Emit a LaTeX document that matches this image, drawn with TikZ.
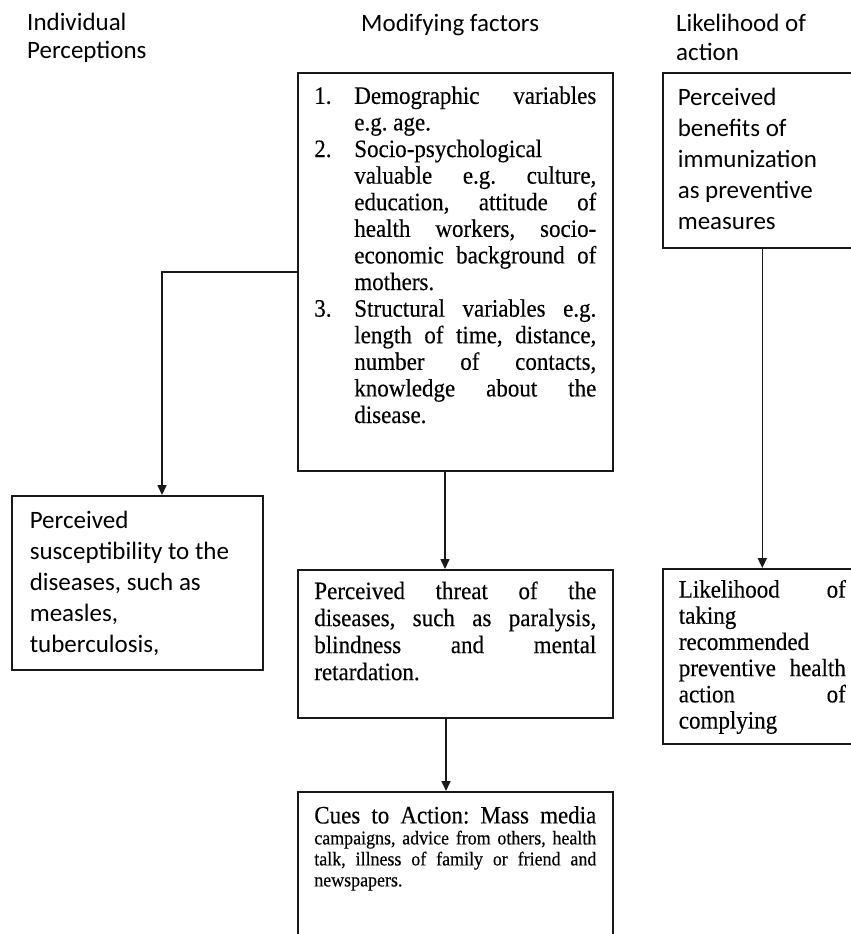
\documentclass[tikz,border=0pt]{standalone}
\usepackage{fontspec}
\setmainfont[FakeStretch=0.92,FakeBold=0.3]{Liberation Serif}
\newfontfamily\calib{Carlito}
\usetikzlibrary{arrows.meta}
\frenchspacing
\newcommand\nitem[2]{\noindent\makebox[40pt][l]{\strut #1}\makebox[242pt][s]{#2}\par}
\newcommand\nitemL[2]{\noindent\makebox[40pt][l]{\strut #1}#2\par}
\newcommand\cj[1]{\noindent\hspace*{40pt}\makebox[242pt][s]{\strut #1}\par}
\newcommand\cl[1]{\noindent\hspace*{40pt}\strut #1\par}
\newcommand\jline[2]{\noindent\makebox[#1][s]{\strut #2}\par}
\newcommand\lline[1]{\noindent\strut #1\par}
\tikzset{
  pbox/.style={draw=black!90, line width=1.6pt, inner ysep=0pt, anchor=north west},
  arr/.style={draw=black!90, line width=1.6pt, -{Triangle[length=10pt,width=9pt]}},
  head/.style={anchor=base west, inner sep=0pt}
}
\begin{document}
\begin{tikzpicture}[x=1pt,y=-1pt]
\useasboundingbox (0,0) rectangle (851,934);
\clip (0,0) rectangle (851,934);
% headings
\node[head, font=\calib\fontsize{25}{28}\selectfont] (h1) at (27,31)
  {\parbox[t]{200pt}{\raggedright Individual\\Perceptions}};
\node[head, font=\calib\fontsize{25}{28}\selectfont] (h2) at (361,32) {Modifying factors};
\node[head, font=\calib\fontsize{25}{29}\selectfont] (h3) at (676,32)
  {\parbox[t]{170pt}{\raggedright Likelihood of\\action}};
% modifying factors box
\node[pbox, inner xsep=16.5pt] (mods) at (297,72)
  {\parbox[c][398pt][t]{282pt}{\fontsize{25}{26.6}\selectfont\lineskiplimit=-100pt
   \vspace*{12.4pt}
   \nitem{1.}{Demographic variables}
   \cl{e.g. age.}
   \nitemL{2.}{Socio-psychological}
   \cj{valuable e.g. culture,}
   \cj{education, attitude of}
   \cj{health workers, socio-}
   \cj{economic background of}
   \cl{mothers.}
   \nitem{3.}{Structural variables e.g.}
   \cj{length of time, distance,}
   \cj{number of contacts,}
   \cj{knowledge about the}
   \cl{disease.}}};
% benefits box
\node[pbox, inner xsep=15pt] (benefits) at (662,72)
  {\parbox[c][175pt][t]{169pt}{\calib\fontsize{25}{31}\selectfont\lineskiplimit=-100pt
   \vspace*{11.3pt}
   \lline{Perceived}
   \lline{benefits of}
   \lline{immunization}
   \lline{as preventive}
   \lline{measures}}};
% susceptibility box
\node[pbox, inner xsep=18pt] (susc) at (11,495)
  {\parbox[c][174pt][t]{215pt}{\calib\fontsize{25}{31}\selectfont\lineskiplimit=-100pt
   \vspace*{11.3pt}
   \lline{Perceived}
   \lline{susceptibility to the}
   \lline{diseases, such as}
   \lline{measles,}
   \lline{tuberculosis,}}};
% threat box
\node[pbox, inner xsep=16.5pt] (threat) at (297,569)
  {\parbox[c][148pt][t]{282pt}{\fontsize{25}{27}\selectfont\lineskiplimit=-100pt
   \vspace*{10.4pt}
   \jline{282pt}{Perceived threat of the}
   \jline{282pt}{diseases, such as paralysis,}
   \jline{282pt}{blindness and mental}
   \lline{retardation.}}};
% likelihood box
\node[pbox, inner xsep=16pt] (likely) at (662,568)
  {\parbox[c][175pt][t]{167pt}{\fontsize{25}{26.2}\selectfont\lineskiplimit=-100pt
   \vspace*{10.4pt}
   \jline{167pt}{Likelihood of}
   \lline{taking}
   \lline{recommended}
   \jline{167pt}{preventive health}
   \jline{167pt}{action of}
   \lline{complying}}};
% cues box
\node[pbox, inner xsep=16.5pt] (cues) at (297,791)
  {\parbox[c][200pt][t]{282pt}{\lineskiplimit=-100pt
   {\fontsize{25}{26.6}\selectfont
   \vspace*{13pt}
   \jline{282pt}{Cues to Action: Mass media}}
   {\fontsize{19.5}{21}\selectfont
   \jline{282pt}{campaigns, advice from others, health}
   \jline{282pt}{talk, illness of family or friend and}
   \lline{newspapers.}}}};
% connectors
\coordinate (mx1) at (445,0);
\coordinate (mx2) at (446,0);
\draw[arr] (mods.west) -| ([xshift=151pt]susc.north west);
\draw[arr] (mods.south -| mx1) -- (threat.north -| mx1);
\draw[arr] (threat.south -| mx2) -- (cues.north -| mx2);
\draw[arr] (benefits.south) -- (likely.north);
\end{tikzpicture}
\end{document}
